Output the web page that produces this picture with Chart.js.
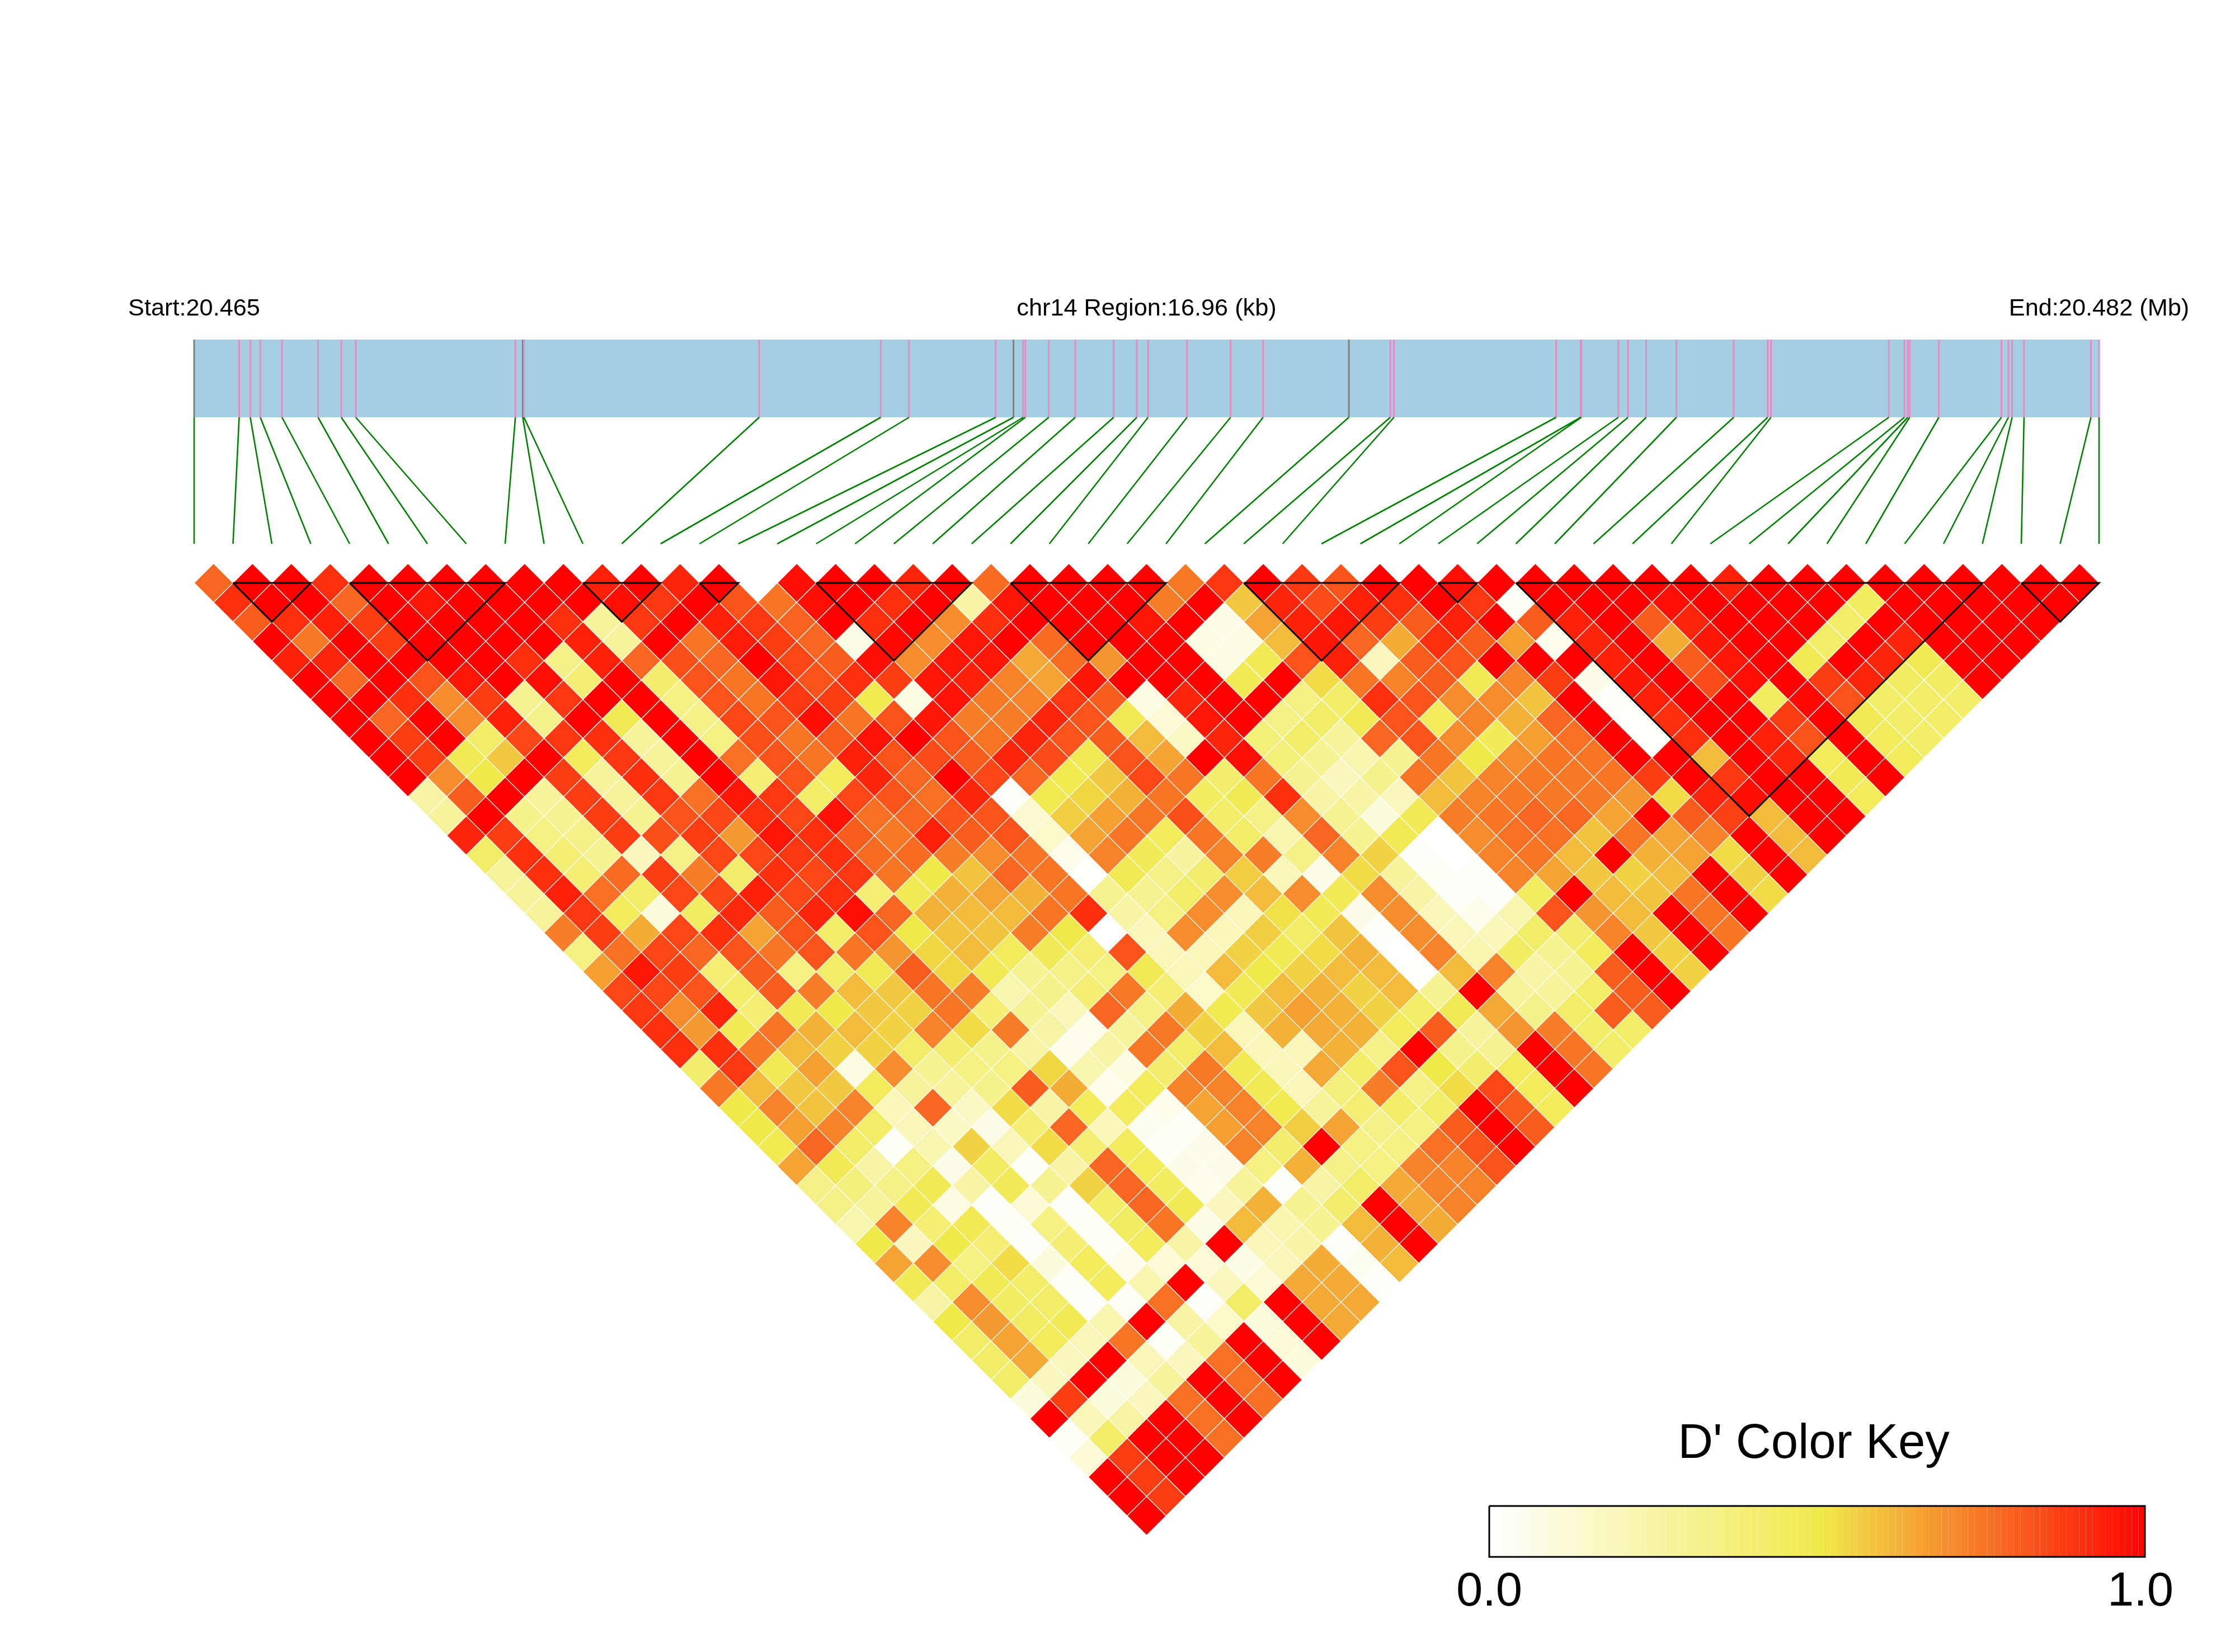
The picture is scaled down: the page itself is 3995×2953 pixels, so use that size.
<!DOCTYPE html>
<html>
<head>
<meta charset="utf-8">
<title>LD heatmap chr14</title>
<script src="https://cdn.jsdelivr.net/npm/chart.js@4"></script>
<style>
  html, body { margin: 0; padding: 0; background: #fff; }
  canvas { display: block; }
</style>
</head>
<body>
<canvas id="ld" width="3995" height="2953"></canvas>
<script>
// SNP positions along the region, kb from the start
const snpPosKb = [0, 0.401, 0.5, 0.589, 0.782, 1.103, 1.31, 1.439, 2.86, 2.926, 2.936, 5.031, 6.113, 6.365, 7.137, 7.295, 7.381, 7.401, 7.609, 7.845, 8.187, 8.393, 8.493, 8.84, 9.228, 9.517, 10.281, 10.65, 10.682, 12.126, 12.345, 12.351, 12.68, 12.766, 12.928, 13.197, 13.708, 14.01, 14.039, 15.088, 15.227, 15.257, 15.274, 15.534, 16.091, 16.153, 16.186, 16.292, 16.888, 16.96];
const regionKb = 16.96;
const greySnps = [0, 9, 15, 26];
// first and last SNP of each haplotype block
const blocks = [[1, 3], [4, 8], [10, 12], [13, 14], [16, 20], [21, 25], [27, 31], [32, 33], [34, 46], [47, 49]];
const startLabel = 'Start:20.465';
const regionLabel = 'chr14 Region:16.96 (kb)';
const endLabel = 'End:20.482 (Mb)';
const keyTitle = "D' Color Key";
const keyTicks = ['0.0', '1.0'];

// D' x 100. One line per SNP distance, 1 at the top of the triangle, left to right
const ldRows = [
  [78,100,100,90,100,100,100,100,100,100,93,100,92,100,0,97,100,100,92,100,77,100,100,100,100,74,88,100,88,82,100,100,97,100,100,100,100,100,100,93,100,100,100,100,100,100,100,100,100],
  [90,100,100,78,100,95,100,100,100,100,97,88,100,82,75,97,100,90,100,25,95,100,100,100,73,100,57,92,84,93,90,100,88,3,100,100,100,97,100,100,100,100,44,100,100,100,100,100],
  [80,90,93,87,100,100,100,100,90,27,88,100,93,88,79,100,90,100,70,90,100,100,100,95,100,7,65,93,95,87,80,93,100,80,93,100,80,92,100,100,100,42,100,100,100,100,100],
  [100,74,100,87,100,100,100,100,93,27,100,75,94,87,78,7,98,70,95,100,77,100,100,100,8,8,60,95,78,63,90,80,66,5,92,100,63,95,100,100,42,100,92,100,100,100],
  [93,92,100,100,100,100,90,33,93,78,83,78,100,85,80,97,70,95,95,64,77,68,100,100,8,47,82,93,18,80,82,100,100,100,93,100,80,95,100,47,100,92,47,100,100],
  [100,78,100,82,95,100,97,38,100,40,82,75,95,82,90,87,95,93,72,65,95,100,100,100,47,100,53,75,72,80,47,72,87,6,95,100,84,97,100,87,92,43,43,100],
  [100,100,90,70,87,30,88,100,100,35,82,75,88,87,48,8,96,74,72,88,80,8,92,100,100,35,42,90,82,70,70,58,100,2,93,100,100,44,98,82,42,42,42],
  [100,78,100,70,93,32,100,47,100,33,85,82,97,75,82,95,73,73,92,82,47,12,95,100,34,42,47,82,45,72,62,78,100,1,90,100,100,87,100,47,42,42],
  [100,87,100,42,85,88,90,28,100,35,83,75,80,96,100,82,75,92,82,80,60,16,92,37,42,28,78,82,70,46,66,76,100,1,90,100,93,82,100,45,42],
  [100,87,47,57,100,45,88,28,100,76,82,75,93,82,84,80,92,84,47,82,65,100,97,37,30,22,30,75,50,70,75,75,100,100,60,100,92,45,100,45],
  [100,70,50,100,87,27,90,30,100,38,82,45,92,78,100,85,78,48,57,85,75,40,75,30,18,32,75,58,72,74,74,75,87,100,88,100,100,47,100],
  [25,80,100,28,87,27,88,76,95,88,42,85,82,76,92,2,48,54,62,75,44,47,90,25,25,18,60,72,74,74,74,68,53,92,97,100,100,45],
  [28,100,32,30,87,30,82,85,90,85,96,76,78,82,82,13,56,66,75,83,42,33,70,30,10,47,73,75,78,78,65,100,80,86,60,100,100],
  [92,87,35,33,87,83,87,67,95,90,80,74,93,80,82,15,65,75,45,75,42,22,78,30,47,0,70,76,76,58,75,65,72,100,60,100],
  [42,90,38,30,18,33,85,85,88,90,77,77,73,70,75,5,72,46,26,72,73,33,72,55,2,0,72,75,60,100,62,65,53,100,60],
  [28,90,38,77,87,73,41,90,85,88,75,50,58,78,75,1,47,33,40,56,20,7,53,27,3,2,72,65,57,55,60,100,55,100],
  [28,93,76,42,85,85,93,85,90,38,47,62,65,62,75,30,30,42,70,60,70,47,70,25,2,2,44,100,60,58,75,100,53],
  [27,88,45,10,43,91,80,92,97,78,62,60,60,75,90,25,35,70,20,52,47,6,70,20,5,22,82,68,60,100,75,100],
  [73,87,63,85,90,65,82,42,82,50,58,58,73,50,0,20,70,20,56,42,58,2,70,20,20,42,40,72,57,100,75],
  [35,76,85,78,82,75,82,75,68,54,60,45,46,38,82,20,20,55,47,53,62,0,72,22,43,30,45,100,55,100],
  [66,95,87,38,80,35,42,47,80,54,47,30,33,35,47,20,60,50,55,60,60,1,60,72,25,30,80,100,55],
  [85,85,82,42,80,73,60,57,75,73,22,32,38,74,38,15,47,60,62,55,60,30,100,28,28,42,80,100],
  [88,70,92,38,47,50,57,55,75,38,30,20,78,33,63,48,57,66,62,55,42,47,64,32,42,80,80],
  [90,67,47,75,62,60,55,72,53,73,25,5,27,74,55,20,62,64,62,45,80,27,68,73,42,42],
  [90,90,74,60,55,55,42,40,32,25,5,25,74,42,60,20,20,62,33,100,32,30,100,75,42],
  [40,88,47,66,8,70,30,35,35,54,22,8,40,74,47,20,64,42,82,50,40,45,100,75],
  [74,60,57,57,45,27,28,32,80,63,5,45,72,72,47,20,36,73,33,53,85,45,100],
  [50,72,58,72,20,78,16,53,25,45,45,5,65,72,48,28,38,42,42,100,80,45],
  [50,66,72,42,20,16,6,38,78,20,4,3,66,72,56,65,33,35,80,100,80],
  [48,78,42,3,22,55,20,53,38,45,3,6,72,40,100,35,35,76,82,100],
  [65,47,25,35,6,43,3,25,78,45,6,6,35,62,33,35,72,72,82],
  [33,36,33,47,25,46,30,55,78,44,5,28,2,25,42,64,72,72],
  [33,28,47,8,2,12,2,42,78,47,18,62,30,40,100,64,72],
  [22,72,38,47,3,35,3,43,75,7,60,22,30,60,100,63],
  [50,18,50,38,2,38,3,45,25,100,20,25,2,62,100],
  [65,70,35,53,9,45,5,12,12,7,20,63,4,60],
  [47,42,47,42,3,45,22,100,18,12,64,64,2],
  [25,70,43,42,2,3,76,2,42,100,64,64],
  [50,67,43,47,22,100,25,15,10,100,64],
  [42,65,45,20,75,3,28,100,12,100],
  [42,64,18,100,20,18,76,100,10],
  [42,18,100,10,27,100,76,100],
  [10,87,10,18,76,100,76],
  [100,20,25,100,76,100],
  [3,42,100,100,76],
  [12,87,100,100],
  [100,87,100],
  [100,87],
  [100]
];

// page layout, pixels
const snpStep = 69.49, rowStep = 34.745;
const firstSnpPx = 347, rowZeroPx = 1007.25;
const keyLeftPx = 2662, keyRightPx = 3834;
const W = 3995, H = 2953;

// row-unit heights of the non-cell parts
const rowOf = px => (px - rowZeroPx) / rowStep;
const trackTop = rowOf(607), trackBottom = rowOf(746), linkEnd = rowOf(972);
const keyTop = rowOf(2692), keyBottom = rowOf(2783);

// white -> yellow -> red, same ramp as the colour key
function dColor(v) {
  const lo = [255, 255, 255], mid = [240, 233, 74], hi = [255, 0, 0];
  const a = v < 0.5 ? lo : mid, b = v < 0.5 ? mid : hi;
  const t = v < 0.5 ? v / 0.5 : (v - 0.5) / 0.5;
  const c = a.map((p, i) => Math.round(p + (b[i] - p) * t));
  return 'rgb(' + c.join(',') + ')';
}

const cells = [];
ldRows.forEach((row, r) => {
  const dist = r + 1;
  row.forEach((v, k) => cells.push({ x: k + dist / 2, y: dist, v: v / 100 }));
});

const posUnit = kb => kb / regionKb * (snpPosKb.length - 1);
const gap = { x: NaN, y: NaN };
const pinkLines = [], greyLines = [], links = [], blockLines = [];
snpPosKb.forEach((kb, i) => {
  const target = greySnps.includes(i) ? greyLines : pinkLines;
  target.push({ x: posUnit(kb), y: trackTop }, { x: posUnit(kb), y: trackBottom }, gap);
  links.push({ x: posUnit(kb), y: trackBottom }, { x: i, y: linkEnd }, gap);
});
blocks.forEach(([a, b]) => {
  blockLines.push({ x: a, y: 1 }, { x: b, y: 1 }, { x: (a + b) / 2, y: 1 + (b - a) }, { x: a, y: 1 }, gap);
});

const keySteps = [];
for (let i = 0; i <= 100; i++) keySteps.push({ x: i / 100, y: (keyTop + keyBottom) / 2 });

const lineBase = { type: 'scatter', showLine: true, pointRadius: 0, spanGaps: false, fill: false, tension: 0, clip: false };

const labelPlugin = {
  id: 'labels',
  afterDraw(chart) {
    const { ctx, scales } = chart;
    const x = scales.x, key = scales.xKey;
    ctx.save();
    ctx.fillStyle = '#000';
    ctx.textAlign = 'center';
    ctx.textBaseline = 'alphabetic';
    ctx.font = '43.3px "Liberation Sans"';
    ctx.fillText(startLabel, x.getPixelForValue(0), 564);
    ctx.fillText(regionLabel, x.getPixelForValue(24.5), 564);
    ctx.fillText(endLabel, x.getPixelForValue(49), 564);
    ctx.font = '87px "Liberation Sans"';
    ctx.fillText(keyTitle, key.getPixelForValue(0.5) - 6, 2606);
    ctx.font = '85px "Liberation Sans"';
    ctx.fillText(keyTicks[0], key.getPixelForValue(0), 2870);
    ctx.fillText(keyTicks[1], key.getPixelForValue(1) - 8, 2870);
    ctx.restore();
  }
};

new Chart(document.getElementById('ld'), {
  type: 'scatter',
  data: {
    datasets: [
      { ...lineBase, label: 'blocks', data: blockLines, borderColor: '#000', borderWidth: 3, order: 0 },
      {
        type: 'scatter', label: "D'", data: cells, order: 1, clip: false,
        pointStyle: 'rectRot', pointRadius: rowStep, pointBorderWidth: 1.2, pointBorderColor: '#fff',
        pointBackgroundColor: cells.map(c => dColor(c.v))
      },
      { ...lineBase, label: 'links', data: links, borderColor: '#008000', borderWidth: 2.6, order: 2 },
      { ...lineBase, label: 'pink', data: pinkLines, borderColor: '#E78AC3', borderWidth: 3, order: 3 },
      { ...lineBase, label: 'grey', data: greyLines, borderColor: '#808080', borderWidth: 3, order: 4 },
      {
        ...lineBase, label: 'track', order: 5, borderColor: '#A6CEE3', borderCapStyle: 'butt',
        borderWidth: (746 - 607),
        data: [{ x: 0, y: (trackTop + trackBottom) / 2 }, { x: 49, y: (trackTop + trackBottom) / 2 }]
      },
      {
        ...lineBase, label: 'key box', order: 6, xAxisID: 'xKey', borderColor: '#000', borderWidth: 3,
        data: [{ x: 0, y: keyTop }, { x: 1, y: keyTop }, { x: 1, y: keyBottom }, { x: 0, y: keyBottom }, { x: 0, y: keyTop }]
      },
      {
        ...lineBase, label: 'key', order: 7, xAxisID: 'xKey', data: keySteps,
        borderWidth: 2783 - 2692, borderCapStyle: 'butt', borderColor: '#fff',
        segment: { borderColor: c => dColor(c.p0.parsed.x) }
      }
    ]
  },
  options: {
    responsive: false,
    animation: false,
    events: [],
    layout: { padding: 0, autoPadding: false },
    plugins: { legend: { display: false }, tooltip: { enabled: false } },
    scales: {
      x: { type: 'linear', display: false, min: -firstSnpPx / snpStep, max: (W - firstSnpPx) / snpStep },
      xKey: {
        type: 'linear', display: false, axis: 'x',
        min: -keyLeftPx / (keyRightPx - keyLeftPx),
        max: (W - keyLeftPx) / (keyRightPx - keyLeftPx)
      },
      y: { type: 'linear', display: false, reverse: true, min: -rowZeroPx / rowStep, max: (H - rowZeroPx) / rowStep }
    }
  },
  plugins: [labelPlugin]
});
</script>
</body>
</html>
